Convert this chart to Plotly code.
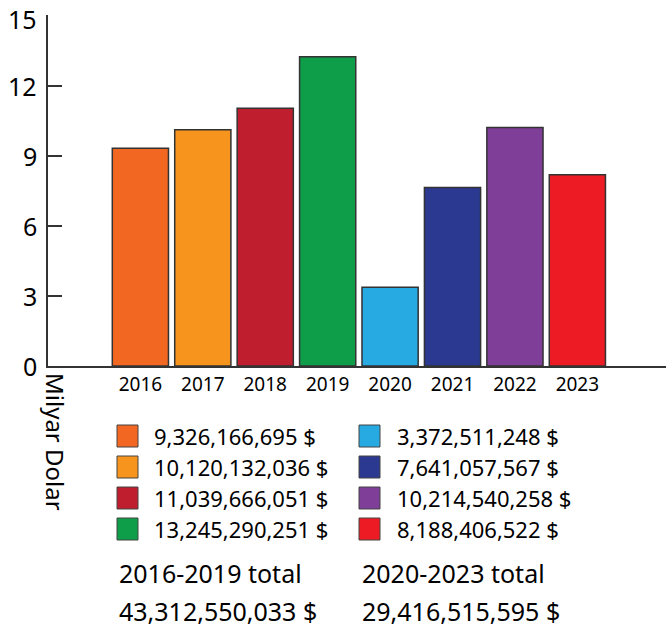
import plotly.graph_objects as go

# Yearly amounts in US dollars
years = ["2016", "2017", "2018", "2019", "2020", "2021", "2022", "2023"]
amounts = [9326166695, 10120132036, 11039666051, 13245290251,
           3372511248, 7641057567, 10214540258, 8188406522]
colors = ["#F26722", "#F7941D", "#BE1E2D", "#0E9D48",
          "#27AAE1", "#2B3990", "#7F3F98", "#ED1C24"]
period_labels = ["2016-2019 total", "2020-2023 total"]
period_totals = ["43,312,550,033 $", "29,416,515,595 $"]
y_ticks = [0, 3, 6, 9, 12, 15]

FONT = "Noto Sans"
W, H = 666, 628
L, T, B = 48, 15, 262
PW, PH = W - L, H - T - B


def px_x(x):
    return (x - L) / PW


def px_y(y):
    return (H - B - y) / PH


heights = [a / 1e9 for a in amounts]

fig = go.Figure(go.Bar(
    x=years, y=heights,
    marker=dict(color=colors, line=dict(color="#333333", width=1.5)),
    width=0.9,
    hoverinfo="skip",
))

shapes = []
annotations = []

# Y tick labels as free text so the top one is not dropped at the figure edge
for t in y_ticks:
    annotations.append(dict(
        xref="paper", yref="y", x=px_x(39), y=t,
        xanchor="right", yanchor="middle", showarrow=False,
        yshift=-3 if t == max(y_ticks) else 0,
        text=str(t), font=dict(family=FONT, size=25, color="#000000"),
    ))

# Two-column key: four years per column
col_sq_x = [117, 359]
col_tx_x = [152, 395]
row_y = [436, 467, 498, 529]
for i, (a, c) in enumerate(zip(amounts, colors)):
    col, row = divmod(i, 4)
    sx, cy = col_sq_x[col], row_y[row]
    shapes.append(dict(
        type="rect", xref="paper", yref="paper",
        x0=px_x(sx), x1=px_x(sx + 21), y0=px_y(cy + 11), y1=px_y(cy - 11),
        fillcolor=c, line=dict(color="#444444", width=1),
    ))
    annotations.append(dict(
        xref="paper", yref="paper", x=px_x(col_tx_x[col]), y=px_y(cy),
        xanchor="left", yanchor="middle", showarrow=False,
        text=f"{a:,} $", font=dict(family=FONT, size=22, color="#000000"),
    ))

for col, (lab, tot) in enumerate(zip(period_labels, period_totals)):
    x0 = [117, 360][col]
    annotations.append(dict(
        xref="paper", yref="paper", x=px_x(x0), y=px_y(573),
        xanchor="left", yanchor="middle", showarrow=False,
        text=lab, font=dict(family=FONT, size=25, color="#000000"),
    ))
    annotations.append(dict(
        xref="paper", yref="paper", x=px_x(x0), y=px_y(611),
        xanchor="left", yanchor="middle", showarrow=False,
        text=tot, font=dict(family=FONT, size=25, color="#000000"),
    ))

# Unit label under the y axis
annotations.append(dict(
    xref="paper", yref="paper", x=px_x(56), y=px_y(442),
    xanchor="center", yanchor="middle", showarrow=False, textangle=90,
    text="Milyar Dolar", font=dict(family=FONT, size=24, color="#000000"),
))

fig.update_layout(
    width=W, height=H,
    margin=dict(l=L, r=0, t=T, b=B, pad=0),
    paper_bgcolor="white", plot_bgcolor="white",
    showlegend=False,
    shapes=shapes, annotations=annotations,
    xaxis=dict(
        type="category", range=[-1.48, 8.42],
        showline=True, linecolor="#333333", linewidth=1.5,
        showgrid=False, ticks="", zeroline=False,
        tickfont=dict(family=FONT, size=19, color="#000000"),
    ),
    yaxis=dict(
        range=[0, 15.03], tickvals=y_ticks, showticklabels=False,
        showline=True, linecolor="#333333", linewidth=1.5,
        showgrid=False, zeroline=False,
        ticks="inside", ticklen=14, tickwidth=1.5, tickcolor="#333333",
    ),
)

fig.write_html("out.html")
